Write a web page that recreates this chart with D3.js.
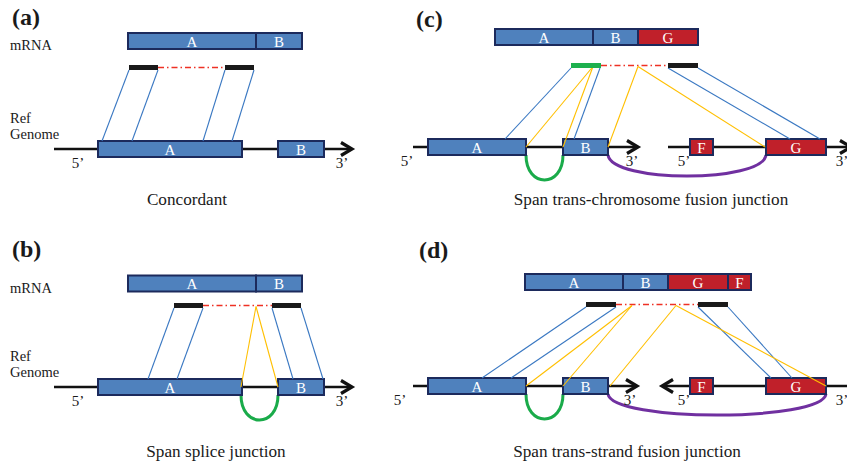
<!DOCTYPE html>
<html>
<head>
<meta charset="utf-8">
<script src="https://cdn.jsdelivr.net/npm/d3@7/dist/d3.min.js"></script>
<style>
  html, body { margin: 0; padding: 0; background: #ffffff; }
  svg { display: block; }
</style>
</head>
<body>
<svg id="fig" width="847" height="466" font-family="'Liberation Serif', 'DejaVu Serif', serif"></svg>
<script>
// ---- Figure content ------------------------------------------------------
const panelIds = ["a", "b", "c", "d"];
const panelLabels = ["(a)", "(b)", "(c)", "(d)"];
const captions = [
  "Concordant",
  "Span splice junction",
  "Span trans-chromosome fusion junction",
  "Span trans-strand fusion junction"
];

// Transcript (mRNA) segments along the diagram axis
const mrnaSegments = [
  { panel: "a", name: "A", start: 128, end: 256, gene: "host" },
  { panel: "a", name: "B", start: 256, end: 302, gene: "host" },
  { panel: "b", name: "A", start: 128, end: 256, gene: "host" },
  { panel: "b", name: "B", start: 256, end: 302, gene: "host" },
  { panel: "c", name: "A", start: 495, end: 593, gene: "host" },
  { panel: "c", name: "B", start: 593, end: 638, gene: "host" },
  { panel: "c", name: "G", start: 638, end: 698, gene: "partner" },
  { panel: "d", name: "A", start: 525, end: 623, gene: "host" },
  { panel: "d", name: "B", start: 623, end: 668, gene: "host" },
  { panel: "d", name: "G", start: 668, end: 728, gene: "partner" },
  { panel: "d", name: "F", start: 728, end: 751, gene: "partner" }
];

// Exons on the reference genome
const exons = [
  { panel: "a", name: "A", start: 98, end: 242, gene: "host" },
  { panel: "a", name: "B", start: 278, end: 324, gene: "host" },
  { panel: "b", name: "A", start: 98, end: 242, gene: "host" },
  { panel: "b", name: "B", start: 278, end: 324, gene: "host" },
  { panel: "c", name: "A", start: 428, end: 526, gene: "host" },
  { panel: "c", name: "B", start: 563, end: 608, gene: "host" },
  { panel: "c", name: "F", start: 690, end: 713, gene: "partner" },
  { panel: "c", name: "G", start: 766, end: 826, gene: "partner" },
  { panel: "d", name: "A", start: 428, end: 526, gene: "host" },
  { panel: "d", name: "B", start: 563, end: 608, gene: "host" },
  { panel: "d", name: "F", start: 690, end: 713, gene: "partner" },
  { panel: "d", name: "G", start: 766, end: 826, gene: "partner" }
];

// Chromosome strands, drawn from 5' to 3' (arrowhead at "to")
const strands = [
  { panel: "a", from: 54, to: 352 },
  { panel: "b", from: 54, to: 352 },
  { panel: "c", from: 413, to: 638 },
  { panel: "c", from: 668, to: 851 },
  { panel: "d", from: 413, to: 637 },
  { panel: "d", from: 850, to: 662 }
];

// Paired-end reads (the two mates of each pair)
const reads = [
  { panel: "a", start: 129, end: 158, anchor: false },
  { panel: "a", start: 225, end: 254, anchor: false },
  { panel: "b", start: 174, end: 203, anchor: false },
  { panel: "b", start: 272, end: 301, anchor: false },
  { panel: "c", start: 571, end: 601, anchor: true },
  { panel: "c", start: 668, end: 698, anchor: false },
  { panel: "d", start: 586, end: 616, anchor: false },
  { panel: "d", start: 698, end: 728, anchor: false }
];

// Alignments: read position -> genome position ("pair" = mate, "split" = junction read)
const alignments = [
  { panel: "a", from: 129, to: 102, kind: "pair" },
  { panel: "a", from: 158, to: 132, kind: "pair" },
  { panel: "a", from: 225, to: 203, kind: "pair" },
  { panel: "a", from: 254, to: 232, kind: "pair" },
  { panel: "b", from: 174, to: 148, kind: "pair" },
  { panel: "b", from: 203, to: 177, kind: "pair" },
  { panel: "b", from: 272, to: 293, kind: "pair" },
  { panel: "b", from: 301, to: 323, kind: "pair" },
  { panel: "b", from: 256, to: 241, kind: "split" },
  { panel: "b", from: 256, to: 278, kind: "split" },
  { panel: "c", from: 571, to: 505, kind: "pair" },
  { panel: "c", from: 600, to: 574, kind: "pair" },
  { panel: "c", from: 668, to: 790, kind: "pair" },
  { panel: "c", from: 698, to: 820, kind: "pair" },
  { panel: "c", from: 593, to: 526, kind: "split" },
  { panel: "c", from: 593, to: 563, kind: "split" },
  { panel: "c", from: 638, to: 608, kind: "split" },
  { panel: "c", from: 638, to: 765, kind: "split" },
  { panel: "d", from: 586, to: 482, kind: "pair" },
  { panel: "d", from: 616, to: 511, kind: "pair" },
  { panel: "d", from: 698, to: 771, kind: "pair" },
  { panel: "d", from: 728, to: 792, kind: "pair" },
  { panel: "d", from: 632, to: 526, kind: "split" },
  { panel: "d", from: 632, to: 563, kind: "split" },
  { panel: "d", from: 676, to: 610, kind: "split" },
  { panel: "d", from: 676, to: 826, kind: "split" }
];

// Junction arcs under the genome
const junctions = [
  { panel: "b", from: 241, to: 278, kind: "splice" },
  { panel: "c", from: 526, to: 563, kind: "splice" },
  { panel: "c", from: 608, to: 766, kind: "fusion" },
  { panel: "d", from: 526, to: 563, kind: "splice" },
  { panel: "d", from: 608, to: 826, kind: "fusion" }
];

// Strand end labels
const endLabels = [
  { panel: "a", text: "5\u2019", at: 78 },
  { panel: "a", text: "3\u2019", at: 342 },
  { panel: "b", text: "5\u2019", at: 78 },
  { panel: "b", text: "3\u2019", at: 342 },
  { panel: "c", text: "5\u2019", at: 407 },
  { panel: "c", text: "3\u2019", at: 632 },
  { panel: "c", text: "5\u2019", at: 684 },
  { panel: "c", text: "3\u2019", at: 842 },
  { panel: "d", text: "5\u2019", at: 400 },
  { panel: "d", text: "3\u2019", at: 630 },
  { panel: "d", text: "5\u2019", at: 684 },
  { panel: "d", text: "3\u2019", at: 842 }
];

// Panels that carry the row names
const rowNamePanels = ["a", "b"];

// ---- Layout ---------------------------------------------------------------
const layout = {
  a: { mrna: 41,    read: 67.5,  genome: 149, label: [12, 25],  caption: [187, 205] },
  b: { mrna: 283.5, read: 305.5, genome: 387, label: [12, 257], caption: [216, 457] },
  c: { mrna: 37,    read: 65.5,  genome: 147, label: [416, 27], caption: [651, 205] },
  d: { mrna: 282,   read: 304.5, genome: 386, label: [419, 258], caption: [627, 457] }
};

const W = 847, H = 466;
const SERIF = "'Liberation Serif', 'DejaVu Serif', serif";
const x = d3.scaleLinear().domain([0, W]).range([0, W]);
const fillColor = d3.scaleOrdinal().domain(["host", "partner"]).range(["#4f81bd", "#c0202a"]);
const linkColor = d3.scaleOrdinal().domain(["pair", "split"]).range(["#3a78c2", "#ffbf00"]);
const arcColor = d3.scaleOrdinal().domain(["splice", "fusion"]).range(["#1aab4a", "#7030a0"]);
const arcDepth = { splice: 25, fusion: 21 };
const BORDER = "#1c2a5c";
const BOX_H = 16, READ_H = 5;

const svg = d3.select("#fig");

// Strands
svg.append("g").selectAll("line").data(strands).join("line")
  .attr("x1", d => x(d.from)).attr("x2", d => x(d.to))
  .attr("y1", d => layout[d.panel].genome).attr("y2", d => layout[d.panel].genome)
  .attr("stroke", "#111").attr("stroke-width", 2.6);

svg.append("g").selectAll("path").data(strands).join("path")
  .attr("d", d => {
    const g = layout[d.panel].genome;
    const dir = d.to > d.from ? 1 : -1;
    const t = x(d.to);
    return `M${t - 11 * dir},${g - 6.5} L${t},${g} L${t - 11 * dir},${g + 6.5}`;
  })
  .attr("fill", "none").attr("stroke", "#111").attr("stroke-width", 3.2)
  .attr("stroke-linejoin", "miter");

// Junction arcs
svg.append("g").selectAll("path").data(junctions).join("path")
  .attr("d", d => {
    const y0 = layout[d.panel].genome + BOX_H / 2;
    const depth = arcDepth[d.kind];
    const c = y0 + depth * 4 / 3;
    const x1 = x(d.from), x2 = x(d.to);
    const inset = d.kind === "fusion" ? 4 : 0;
    return `M${x1},${y0} C${x1 + inset},${c} ${x2 - inset},${c} ${x2},${y0}`;
  })
  .attr("fill", "none").attr("stroke", d => arcColor(d.kind)).attr("stroke-width", 3);

// Genome exons
const exonG = svg.append("g").selectAll("g").data(exons).join("g");
exonG.append("rect")
  .attr("x", d => x(d.start)).attr("width", d => x(d.end) - x(d.start))
  .attr("y", d => layout[d.panel].genome - BOX_H / 2).attr("height", BOX_H)
  .attr("fill", d => fillColor(d.gene)).attr("stroke", BORDER).attr("stroke-width", 2);
exonG.append("text")
  .attr("x", d => (x(d.start) + x(d.end)) / 2)
  .attr("y", d => layout[d.panel].genome + 5.5)
  .attr("text-anchor", "middle").attr("fill", "#ffffff")
  .attr("font-family", SERIF).attr("font-size", 15)
  .text(d => d.name);

// mRNA segments
const mrnaG = svg.append("g").selectAll("g").data(mrnaSegments).join("g");
mrnaG.append("rect")
  .attr("x", d => x(d.start)).attr("width", d => x(d.end) - x(d.start))
  .attr("y", d => layout[d.panel].mrna - BOX_H / 2).attr("height", BOX_H)
  .attr("fill", d => fillColor(d.gene)).attr("stroke", BORDER).attr("stroke-width", 2);
mrnaG.append("text")
  .attr("x", d => (x(d.start) + x(d.end)) / 2)
  .attr("y", d => layout[d.panel].mrna + 5.5)
  .attr("text-anchor", "middle").attr("fill", "#ffffff")
  .attr("font-family", SERIF).attr("font-size", 15)
  .text(d => d.name);

// Dash-dot connector between the two mates
const mateGaps = panelIds.map(p => {
  const r = reads.filter(d => d.panel === p).sort((a, b) => a.start - b.start);
  return { panel: p, from: r[0].end, to: r[1].start };
});
svg.append("g").selectAll("line").data(mateGaps).join("line")
  .attr("x1", d => x(d.from)).attr("x2", d => x(d.to))
  .attr("y1", d => layout[d.panel].read).attr("y2", d => layout[d.panel].read)
  .attr("stroke", "#ee3124").attr("stroke-width", 1.3)
  .attr("stroke-dasharray", "6,3,1.5,3");

// Alignment lines
svg.append("g").selectAll("line").data(alignments).join("line")
  .attr("x1", d => x(d.from))
  .attr("y1", d => layout[d.panel].read + (d.kind === "pair" ? READ_H / 2 : 1))
  .attr("x2", d => x(d.to))
  .attr("y2", d => layout[d.panel].genome - (d.kind === "pair" ? BOX_H / 2 : 0))
  .attr("stroke", d => linkColor(d.kind)).attr("stroke-width", 1.1);

// Reads
svg.append("g").selectAll("rect").data(reads).join("rect")
  .attr("x", d => x(d.start)).attr("width", d => x(d.end) - x(d.start))
  .attr("y", d => layout[d.panel].read - READ_H / 2).attr("height", READ_H)
  .attr("fill", d => d.anchor ? "#1db04e" : "#1a1a1a");

// Strand end labels
svg.append("g").selectAll("text").data(endLabels).join("text")
  .attr("x", d => x(d.at))
  .attr("y", d => layout[d.panel].genome + 19)
  .attr("text-anchor", "middle").attr("font-family", SERIF).attr("font-size", 15)
  .attr("fill", "#1a1a1a")
  .text(d => d.text);

// Row names
const rowNames = svg.append("g").selectAll("g").data(rowNamePanels).join("g")
  .attr("font-family", SERIF).attr("font-size", 14.5).attr("fill", "#1a1a1a");
rowNames.append("text").attr("x", 10).attr("y", p => layout[p].mrna + 9).text("mRNA");
rowNames.append("text").attr("x", 10).attr("y", p => layout[p].genome - 26).text("Ref");
rowNames.append("text").attr("x", 10).attr("y", p => layout[p].genome - 10.5).text("Genome");

// Panel letters
svg.append("g").selectAll("text").data(panelIds).join("text")
  .attr("x", p => layout[p].label[0]).attr("y", p => layout[p].label[1])
  .attr("font-family", SERIF).attr("font-size", 24).attr("font-weight", "bold")
  .attr("fill", "#1a1a1a")
  .text((p, i) => panelLabels[i]);

// Captions
svg.append("g").selectAll("text").data(panelIds).join("text")
  .attr("x", p => layout[p].caption[0]).attr("y", p => layout[p].caption[1])
  .attr("text-anchor", "middle").attr("font-family", SERIF).attr("font-size", 17.2)
  .attr("fill", "#1a1a1a")
  .text((p, i) => captions[i]);
</script>
</body>
</html>
